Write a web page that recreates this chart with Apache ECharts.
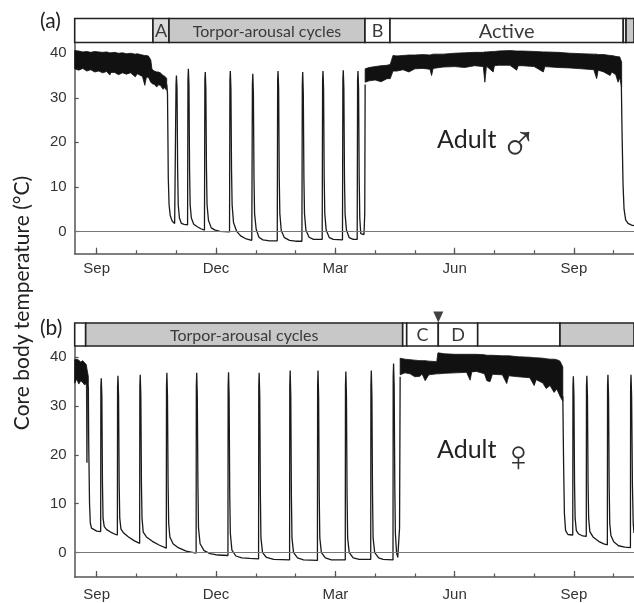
<!DOCTYPE html>
<html><head><meta charset="utf-8">
<script src="https://cdn.jsdelivr.net/npm/echarts@6/dist/echarts.min.js"></script>
<style>html,body{margin:0;padding:0;background:#fff}#c{width:634px;height:603px}</style>
</head><body><div id="c"></div>
<script>
// x = months since 1 September (0 = Sep, 3 = Dec, 6 = Mar, 9 = Jun, 12 = Sep)
const xMin = -0.553, xMax = 13.51;
const yMin = -5, yMax = 42.3;
const monthTicks = [0,1,2,3,4,5,6,7,8,9,10,11,12,13];
const majorTicks = [0,3,6,9,12];
const majorLabels = ['Sep','Dec','Mar','Jun','Sep'];
const yTicks = [0,10,20,30,40];

// ---- Panel (a): adult male ----
const phaseStartA = [-0.553, 1.415, 1.818, 6.746, 7.375, 13.24, 13.31];
const phaseEndA   = [1.415, 1.818, 6.746, 7.375, 13.24, 13.31, 13.51];
const phaseLabelA = ['', 'A', 'Torpor-arousal cycles', 'B', 'Active', '', ''];
const phaseTypeA  = ['plain', 'light', 'torpor', 'plain', 'plain', 'plain', 'torpor'];

// euthermic noise band: [month, lower, upper]
const bandA1 = [[-0.553,36.5,40.6],[-0.45,36.2,40.5],[-0.35,36.6,40.3],[-0.25,36.0,40.4],[-0.15,36.3,40.2],[-0.05,35.8,40.4],[0.05,36.0,40.3],[0.15,35.6,40.2],[0.25,35.9,40.3],[0.33,35.1,40.1],[0.36,35.7,40.1],[0.45,35.7,40.2],[0.55,35.2,40.0],[0.65,35.6,40.1],[0.75,35.3,39.9],[0.85,35.6,40.0],[0.97,34.7,39.8],[1.02,35.4,39.9],[1.15,34.8,39.6],[1.21,32.8,39.5],[1.25,34.6,39.5],[1.30,34.6,39.4],[1.36,33.5,38.5],[1.39,33.2,36.4],[1.45,33.0,36.0],[1.51,32.4,35.8],[1.55,32.9,35.8],[1.60,32.8,35.6],[1.67,31.9,35.0],[1.70,32.3,34.9],[1.76,31.7,34.4]];
const bandA2 = [[6.75,33.5,36.5],[6.85,33.8,36.8],[7.0,34.0,37.0],[7.15,33.6,37.2],[7.30,34.3,37.3],[7.38,34.3,37.5],[7.45,36.0,39.5],[7.55,36.0,39.4],[7.70,36.3,39.5],[7.85,35.8,39.6],[8.0,36.5,39.6],[8.2,36.6,39.7],[8.38,36.4,39.6],[8.42,35.0,39.7],[8.46,36.6,39.8],[8.71,36.9,39.8],[9.0,37.0,40.0],[9.25,36.8,40.1],[9.5,37.2,40.2],[9.72,37.0,40.2],[9.76,33.5,40.3],[9.80,37.1,40.3],[9.97,35.8,40.4],[10.0,37.2,40.4],[10.1,37.3,40.5],[10.39,37.3,40.6],[10.56,36.2,40.5],[10.6,37.2,40.5],[10.7,37.2,40.5],[11.0,37.0,40.4],[11.23,35.8,40.3],[11.27,37.0,40.3],[11.6,36.8,40.2],[11.9,36.7,40.0],[12.2,36.5,39.9],[12.5,36.3,39.8],[12.57,34.3,39.8],[12.61,36.2,39.7],[12.75,35.8,39.7],[12.91,35.0,39.5],[12.95,35.8,39.5],[13.05,35.2,39.3],[13.11,33.5,39.2],[13.15,34.5,39.2],[13.20,32.4,38.0]];

// torpor-arousal trace: [month, temperature]
const traceA1 = [[1.76,33],[1.78,31],[1.79,22],[1.80,12],[1.82,6],[1.85,3.5],[1.90,2.3],[1.96,1.8],
[1.985,1.8],[1.995,33],[2.005,35.0],[2.02,32],[2.035,14],[2.05,6],[2.08,3],[2.13,1.8],[2.20,1.6],[2.285,1.5],
[2.295,34],[2.305,36.5],[2.32,33],[2.335,14],[2.35,6],[2.38,3],[2.44,1.6],[2.52,1.1],[2.62,0.6],[2.71,0.3],
[2.72,34],[2.73,35.8],[2.745,32],[2.76,14],[2.775,6],[2.81,2.5],[2.88,0.8],[2.98,0.3],[3.10,0.0],[3.34,-0.1],
[3.35,34],[3.36,36.0],[3.375,32],[3.39,14],[3.405,6],[3.44,2.0],[3.52,0.0],[3.62,-1.0],[3.74,-1.6],[3.90,-2.0],
[3.915,33],[3.925,35.4],[3.94,31],[3.955,12],[3.97,4],[4.01,0.5],[4.08,-1.3],[4.18,-1.9],[4.35,-2.1],[4.54,-2.1],
[4.55,34],[4.56,36.0],[4.575,32],[4.59,12],[4.605,4],[4.64,0.2],[4.72,-1.4],[4.85,-2.0],[5.0,-2.2],[5.16,-2.2],
[5.17,33],[5.18,35.8],[5.195,31],[5.21,12],[5.225,4],[5.26,0.3],[5.34,-1.3],[5.45,-1.8],[5.67,-1.8],
[5.68,34],[5.69,36.0],[5.705,32],[5.72,12],[5.735,4],[5.77,0.3],[5.85,-1.4],[5.95,-1.8],[6.18,-1.9],
[6.19,34],[6.20,36.2],[6.215,32],[6.23,12],[6.245,4],[6.28,0.3],[6.35,-1.4],[6.45,-1.8],[6.55,-1.8],
[6.56,34],[6.57,36.0],[6.585,32],[6.60,12],[6.615,3],[6.64,-0.5],[6.68,-0.8],[6.72,-0.7],[6.74,4],[6.75,33]];
const traceA2 = [[13.19,34],[13.21,22],[13.235,10.4],[13.26,5],[13.30,2.6],[13.36,1.8],[13.45,1.4],[13.51,1.3]];

// ---- Panel (b): adult female ----
const phaseStartB = [-0.553, -0.277, 7.694, 7.795, 8.589, 9.580, 11.649];
const phaseEndB   = [-0.277, 7.694, 7.795, 8.589, 9.580, 11.649, 13.51];
const phaseLabelB = ['', 'Torpor-arousal cycles', '', 'C', 'D', '', ''];
const phaseTypeB  = ['plain', 'torpor', 'plain', 'plain', 'plain', 'plain', 'torpor'];
const arrowMonthB = [8.589];

const bandB1 = [[-0.553,34.7,39.5],[-0.50,35.5,39.6],[-0.45,34.5,39.4],[-0.40,35.2,39.0],[-0.35,34.8,39.3],[-0.30,34.3,38.8],[-0.26,34.7,38.5],[-0.245,18.4,37.6],[-0.23,34.0,37.0],[-0.21,33.5,36.0]];
const bandB2 = [[7.63,36.4,39.8],[7.75,36.8,39.6],[7.88,36.6,39.5],[8.0,36.0,39.4],[8.13,36.1,39.3],[8.18,36.6,39.3],[8.26,35.2,39.3],[8.35,36.4,39.2],[8.55,36.6,39.1],[8.58,36.6,40.9],[8.75,36.7,40.7],[9.01,36.8,40.6],[9.3,36.9,40.6],[9.39,35.3,40.6],[9.43,37.0,40.6],[9.55,37.1,40.6],[9.75,36.6,40.5],[9.81,35.2,40.4],[9.89,35.0,40.4],[9.95,36.5,40.4],[10.2,36.4,40.3],[10.31,34.6,40.3],[10.36,36.2,40.3],[10.6,36.0,40.1],[10.89,35.8,40.0],[11.0,34.2,39.9],[11.05,35.4,39.9],[11.22,34.7,39.8],[11.3,33.6,39.7],[11.4,34.2,39.6],[11.5,32.8,39.6],[11.57,33.5,39.5],[11.65,32,39.2],[11.72,31,38]];

const traceB1 = [[-0.21,34],[-0.20,22],[-0.18,10],[-0.16,6.0],[-0.13,5.0],[-0.08,4.6],[0.0,4.4],[0.10,4.3],
[0.105,34],[0.115,35.7],[0.13,32],[0.145,14],[0.16,7],[0.19,5.3],[0.25,4.7],[0.35,4.2],[0.45,3.8],[0.52,3.6],
[0.525,34],[0.535,36.2],[0.55,32],[0.565,14],[0.58,7],[0.61,4.8],[0.68,4.0],[0.80,3.2],[0.95,2.4],[1.08,1.9],
[1.085,34],[1.095,36.4],[1.11,32],[1.125,14],[1.14,7],[1.17,4.2],[1.25,3.2],[1.40,2.3],[1.58,1.5],[1.75,0.9],
[1.755,34],[1.765,36.8],[1.78,32],[1.795,14],[1.81,6],[1.84,3.2],[1.92,1.8],[2.05,1.0],[2.25,0.3],[2.50,-0.1],
[2.505,34],[2.515,36.8],[2.53,32],[2.545,14],[2.56,5],[2.60,1.8],[2.70,0.4],[2.85,-0.2],[3.05,-0.5],[3.30,-0.6],
[3.305,34],[3.315,36.9],[3.33,32],[3.345,12],[3.36,4],[3.40,0.5],[3.50,-0.7],[3.65,-1.1],[3.85,-1.2],[4.07,-1.3],
[4.075,34],[4.085,36.8],[4.10,32],[4.115,12],[4.13,3],[4.17,0],[4.27,-1.0],[4.45,-1.4],[4.85,-1.5],
[4.855,34],[4.865,37.3],[4.88,32],[4.895,12],[4.91,3],[4.95,0],[5.05,-1.1],[5.2,-1.5],[5.55,-1.6],
[5.555,34],[5.565,37.3],[5.58,32],[5.595,12],[5.61,3],[5.65,0],[5.75,-1.1],[5.9,-1.5],[6.25,-1.5],
[6.255,34],[6.265,37.1],[6.28,32],[6.295,12],[6.31,3],[6.35,0],[6.45,-1.1],[6.6,-1.4],[6.89,-1.4],
[6.895,34],[6.905,37.3],[6.92,32],[6.935,12],[6.95,3],[6.99,0],[7.09,-1.1],[7.2,-1.4],[7.45,-1.5],
[7.455,36],[7.465,38.7],[7.48,34],[7.495,14],[7.51,4],[7.54,0],[7.57,-1.0],[7.60,-1.1],[7.615,5],[7.63,36]];
const traceB2 = [[11.72,32],[11.74,18],[11.76,8],[11.79,4.5],[11.85,3.7],[11.97,3.6],
[11.975,34],[11.985,36.1],[12.0,32],[12.015,14],[12.03,7],[12.06,4.5],[12.12,3.8],[12.22,3.4],[12.31,3.3],
[12.315,34],[12.325,36.2],[12.34,32],[12.355,14],[12.37,7],[12.40,4.3],[12.48,3.2],[12.62,2.3],[12.75,1.8],[12.84,1.6],
[12.845,34],[12.855,36.4],[12.87,32],[12.885,14],[12.90,6],[12.93,3.5],[13.0,2.2],[13.12,1.4],[13.28,1.1],[13.42,1.0],
[13.425,34],[13.435,36.4],[13.45,32],[13.47,14],[13.49,6],[13.51,4]];

// ---------------- chart ----------------
const chart = echarts.init(document.getElementById('c'), null, {renderer: 'canvas'});
const AX = '#555';
const TXT = '#333';
const fills = {plain: '#ffffff', light: '#dcdcdc', torpor: '#c8c8c8'};

function phaseSeries(ax, starts, ends, labels, types) {
  return {
    type: 'custom', xAxisIndex: ax.x, yAxisIndex: ax.y, silent: true, animation: false,
    data: starts.map((s, i) => [s, ends[i], i]),
    encode: {x: [0, 1]},
    renderItem(params, api) {
      const i = api.value(2);
      const p0 = api.coord([api.value(0), 1]);
      const p1 = api.coord([api.value(1), 0]);
      const lab = labels[i];
      const fs = lab.length === 1 ? 18 : (lab === 'Active' ? 20 : 16);
      const children = [{
        type: 'rect',
        shape: {x: p0[0], y: p0[1], width: p1[0] - p0[0], height: p1[1] - p0[1]},
        style: {fill: fills[types[i]], stroke: '#222', lineWidth: 1.6}
      }];
      if (lab) children.push({
        type: 'text',
        style: {text: lab, x: (p0[0] + p1[0]) / 2, y: (p0[1] + p1[1]) / 2 + 1,
          align: 'center', verticalAlign: 'middle', fill: '#3a3a3a',
          font: fs + 'px Lato, "Open Sans", sans-serif'}
      });
      return {type: 'group', children};
    }
  };
}

function bandSeries(ax, band) {
  return {
    type: 'custom', xAxisIndex: ax.x, yAxisIndex: ax.y, silent: true, animation: false, clip: true,
    data: band, encode: {x: 0, y: [1, 2]},
    renderItem(params, api) {
      if (params.dataIndex !== 0) return null;
      const top = band.map(p => api.coord([p[0], p[2]]));
      const bot = band.slice().reverse().map(p => api.coord([p[0], p[1]]));
      return {type: 'polygon', shape: {points: top.concat(bot)},
        style: {fill: '#111', stroke: '#111', lineWidth: 0.8}};
    }
  };
}

function traceSeries(ax, data, zero) {
  const s = {
    type: 'line', xAxisIndex: ax.x, yAxisIndex: ax.y, data, showSymbol: false, symbol: 'none',
    silent: true, animation: false, clip: true,
    lineStyle: {color: '#1a1a1a', width: 1.3}
  };
  if (zero) s.markLine = {silent: true, symbol: 'none', animation: false, label: {show: false},
    lineStyle: {color: '#777', width: 1, type: 'solid'}, data: [{yAxis: 0}]};
  return s;
}

const barX = g => ({type: 'value', gridIndex: g, min: xMin, max: xMax, show: false});
const minorX = g => ({type: 'value', gridIndex: g, min: xMin, max: xMax, position: 'bottom',
  axisLine: {show: true, onZero: false, lineStyle: {color: AX, width: 1.5}},
  axisTick: {show: true, inside: true, length: 3.5, customValues: monthTicks, lineStyle: {color: AX, width: 1.2}},
  axisLabel: {show: false}, splitLine: {show: false}});
const majorX = (g, m) => ({type: 'value', gridIndex: g, min: xMin, max: xMax, position: 'bottom',
  axisLine: {show: false, onZero: false},
  axisTick: {show: true, inside: true, length: 6, customValues: majorTicks, lineStyle: {color: AX, width: 1.2}},
  axisLabel: {show: true, customValues: majorTicks, margin: m, color: TXT,
    fontFamily: '"Liberation Sans", Arial, sans-serif', fontSize: 15,
    formatter: v => majorLabels[majorTicks.indexOf(Math.round(v))] || ''},
  splitLine: {show: false}});
const barY = g => ({type: 'value', gridIndex: g, min: 0, max: 1, show: false});
const plotY = g => ({type: 'value', gridIndex: g, min: yMin, max: yMax,
  axisLine: {show: true, onZero: false, lineStyle: {color: AX, width: 1.5}},
  axisTick: {show: true, inside: true, length: 4, customValues: yTicks, lineStyle: {color: AX, width: 1.2}},
  axisLabel: {show: true, customValues: yTicks, margin: 8, color: TXT,
    fontFamily: '"Liberation Sans", Arial, sans-serif', fontSize: 15},
  splitLine: {show: false}});

const L = 74.7;
const option = {
  animation: false,
  grid: [
    {left: L, right: 0, top: 18.5, height: 24},
    {left: L, right: 0, top: 43, height: 210.7},
    {left: L, right: 0, top: 323, height: 23},
    {left: L, right: 0, top: 346, height: 231}
  ],
  xAxis: [barX(0), minorX(1), majorX(1, 8), barX(2), minorX(3), majorX(3, 10)],
  yAxis: [barY(0), plotY(1), barY(2), plotY(3)],
  series: [
    phaseSeries({x: 0, y: 0}, phaseStartA, phaseEndA, phaseLabelA, phaseTypeA),
    bandSeries({x: 1, y: 1}, bandA1),
    bandSeries({x: 1, y: 1}, bandA2),
    traceSeries({x: 1, y: 1}, traceA1, true),
    traceSeries({x: 1, y: 1}, traceA2, false),
    phaseSeries({x: 3, y: 2}, phaseStartB, phaseEndB, phaseLabelB, phaseTypeB),
    {type: 'scatter', xAxisIndex: 3, yAxisIndex: 2, silent: true, clip: false, animation: false,
      data: arrowMonthB.map(m => [m, 1]), symbol: 'triangle', symbolRotate: 180,
      symbolSize: [10, 11], symbolOffset: [0, -6], itemStyle: {color: '#111'}, z: 5},
    bandSeries({x: 4, y: 3}, bandB1),
    bandSeries({x: 4, y: 3}, bandB2),
    traceSeries({x: 4, y: 3}, traceB1, true),
    traceSeries({x: 4, y: 3}, traceB2, false)
  ],
  graphic: [
    {type: 'text', left: 40, top: 11, style: {text: '(a)', font: '21px Lato, "Open Sans", sans-serif', fill: '#222'}},
    {type: 'text', left: 40, top: 318, style: {text: '(b)', font: '21px Lato, "Open Sans", sans-serif', fill: '#222'}},
    {type: 'text', left: 437, top: 127, style: {text: 'Adult', font: '25px Lato, "Open Sans", sans-serif', fill: '#222'}},
    {type: 'text', left: 499, top: 121, style: {text: '\u2642', font: '200 52px "DejaVu Sans", sans-serif', fill: '#333'}},
    {type: 'text', left: 502, top: 438, style: {text: '\u2640', font: '200 44px "DejaVu Sans", sans-serif', fill: '#333'}},
    {type: 'text', left: 437, top: 437, style: {text: 'Adult', font: '25px Lato, "Open Sans", sans-serif', fill: '#222'}},
    {type: 'text', x: 22, y: 303, rotation: Math.PI / 2,
      style: {text: 'Core body temperature (\u00B0C)', align: 'center', verticalAlign: 'middle',
        font: '21px Lato, "Open Sans", sans-serif', fill: '#222'}}
  ]
};
chart.setOption(option);
</script>
</body></html>
